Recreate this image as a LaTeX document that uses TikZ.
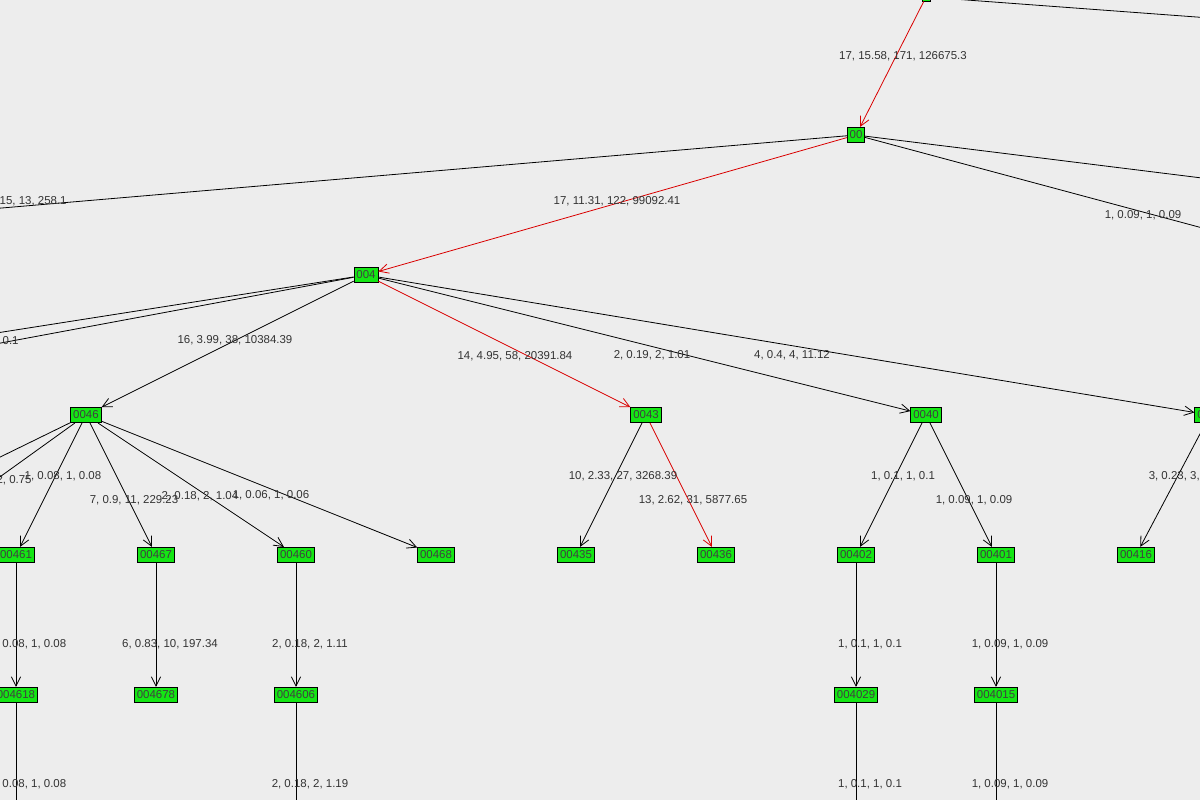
\documentclass[tikz,border=0pt]{standalone}
\usepackage{fontspec}
\setmainfont{Liberation Sans}
\usetikzlibrary{arrows.meta}
\tikzset{every picture/.style={line width=0.6pt}}

\begin{document}
\begin{tikzpicture}[x=0.75pt,y=-0.75pt]

     \tikzstyle{vertex} = [fill = {rgb,255:red,20;green,230;blue,20},
                        draw = black,
                        inner xsep = 1.8pt,
                        inner ysep = 1.5pt,
                        minimum height = 11.5pt,
                        font = \fontsize{8.6}{9}\selectfont,
                        text = black!75]
     \tikzstyle{weight} = [font = \fontsize{8.6}{9}\selectfont, text = black!80, inner sep = 0pt]
     \tikzstyle{arrow} = [-{Straight Barb[length=7pt,width=7pt]}]
     \tikzstyle{hot} = [arrow, red!85!black]

\fill[black!7] (0,0) rectangle (1200,800);
\clip (0,0) rectangle (1200,800);

% upper levels
\node[vertex, minimum width=6pt, minimum height=6pt, inner sep=0pt] (r) at (926,-3) {};
\node[vertex] (n00) at (856,135) {00};
\node[vertex] (n004) at (366,275) {004};
\coordinate (rr) at (1210,18);
\coordinate (l00) at (-10,209);
\coordinate (ra) at (1210,179);
\coordinate (rb) at (1210,230);
\coordinate (la) at (-10,334);
\coordinate (lb) at (-10,345);

% third level
\node[vertex] (n0046) at (86,415) {0046};
\node[vertex] (n0043) at (646,415) {0043};
\node[vertex] (n0040) at (926,415) {0040};
\node[vertex] (n0041) at (1210,415) {0041};
\coordinate (lc) at (-10,462);
\coordinate (ld) at (-10,484);

% fourth level
\node[vertex] (n00461) at (16,555) {00461};
\node[vertex] (n00467) at (156,555) {00467};
\node[vertex] (n00460) at (296,555) {00460};
\node[vertex] (n00468) at (436,555) {00468};
\node[vertex] (n00435) at (576,555) {00435};
\node[vertex] (n00436) at (716,555) {00436};
\node[vertex] (n00402) at (856,555) {00402};
\node[vertex] (n00401) at (996,555) {00401};
\node[vertex] (n00416) at (1136,555) {00416};

% fifth level
\node[vertex] (n004618) at (16,695) {004618};
\node[vertex] (n004678) at (156,695) {004678};
\node[vertex] (n004606) at (296,695) {004606};
\node[vertex] (n004029) at (856,695) {004029};
\node[vertex] (n004015) at (996,695) {004015};
\coordinate (d1) at (16,810);
\coordinate (d2) at (296,810);
\coordinate (d3) at (856,810);
\coordinate (d4) at (996,810);

\draw[hot] (r) -- (n00);
\draw (r) -- (rr);
\draw (n00) -- (l00);
\draw[hot] (n00) -- (n004);
\draw (n00) -- (ra);
\draw (n00) -- (rb);
\draw (n004) -- (la);
\draw (n004) -- (lb);
\draw[arrow] (n004) -- (n0046);
\draw[hot] (n004) -- (n0043);
\draw[arrow] (n004) -- (n0040);
\draw[arrow] (n004) -- (n0041);
\draw (n0046) -- (lc);
\draw (n0046) -- (ld);
\draw[arrow] (n0046) -- (n00461);
\draw[arrow] (n0046) -- (n00467);
\draw[arrow] (n0046) -- (n00460);
\draw[arrow] (n0046) -- (n00468);
\draw[arrow] (n0043) -- (n00435);
\draw[hot] (n0043) -- (n00436);
\draw[arrow] (n0040) -- (n00402);
\draw[arrow] (n0040) -- (n00401);
\draw[arrow] (n0041) -- (n00416);
\draw[arrow] (n00461) -- (n004618);
\draw[arrow] (n00467) -- (n004678);
\draw[arrow] (n00460) -- (n004606);
\draw[arrow] (n00402) -- (n004029);
\draw[arrow] (n00401) -- (n004015);
\draw (n004618) -- (d1);
\draw (n004606) -- (d2);
\draw (n004029) -- (d3);
\draw (n004015) -- (d4);

% edge weights
\node[weight] (w1) at (903,56) {17, 15.58, 171, 126675.3};
\node[weight, anchor=east] (w2) at (67,201) {15, 13, 258.1};
\node[weight] (w3) at (617,201) {17, 11.31, 122, 99092.41};
\node[weight] (w4) at (1143,215) {1, 0.09, 1, 0.09};
\node[weight, anchor=east] (w5) at (19,341) {0.1};
\node[weight] (w6) at (235,340) {16, 3.99, 38, 10384.39};
\node[weight] (w7) at (515,356) {14, 4.95, 58, 20391.84};
\node[weight] (w8) at (652,355) {2, 0.19, 2, 1.01};
\node[weight] (w9) at (792,355) {4, 0.4, 4, 11.12};
\node[weight, anchor=east] (w10) at (32,480) {2, 0.75};
\node[weight] (w11) at (63,476) {1, 0.08, 1, 0.08};
\node[weight] (w12) at (134,500) {7, 0.9, 11, 229.23};
\node[weight] (w13) at (200,496) {2, 0.18, 2, 1.04};
\node[weight] (w14) at (271,495) {1, 0.06, 1, 0.06};
\node[weight] (w15) at (623,476) {10, 2.33, 27, 3268.39};
\node[weight] (w16) at (693,500) {13, 2.62, 31, 5877.65};
\node[weight] (w17) at (903,476) {1, 0.1, 1, 0.1};
\node[weight] (w18) at (974,500) {1, 0.09, 1, 0.09};
\node[weight] (w19) at (1187,476) {3, 0.23, 3, 0.23};
\node[weight] (w20) at (28,644) {1, 0.08, 1, 0.08};
\node[weight] (w21) at (170,644) {6, 0.83, 10, 197.34};
\node[weight] (w22) at (310,644) {2, 0.18, 2, 1.11};
\node[weight] (w23) at (870,644) {1, 0.1, 1, 0.1};
\node[weight] (w24) at (1010,644) {1, 0.09, 1, 0.09};
\node[weight] (w25) at (28,784) {1, 0.08, 1, 0.08};
\node[weight] (w26) at (310,784) {2, 0.18, 2, 1.19};
\node[weight] (w27) at (870,784) {1, 0.1, 1, 0.1};
\node[weight] (w28) at (1010,784) {1, 0.09, 1, 0.09};

\end{tikzpicture}
\end{document}
